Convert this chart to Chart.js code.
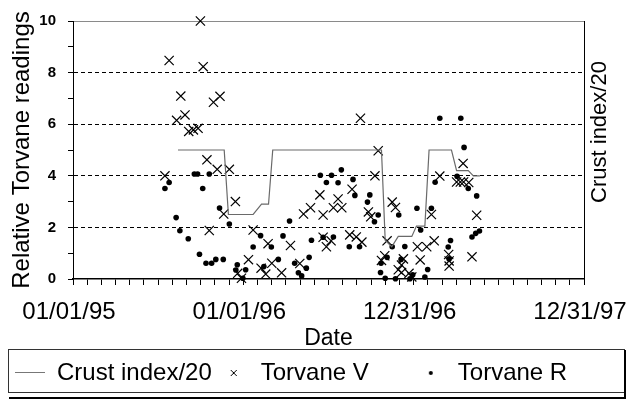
<!DOCTYPE html>
<html>
<head>
<meta charset="utf-8">
<title>Torvane readings</title>
<script src="https://cdn.jsdelivr.net/npm/chart.js@4.4.1/dist/chart.umd.min.js"></script>
<style>
  body { margin: 0; background: #fff; }
  #wrap { width: 628px; height: 399px; }
</style>
</head>
<body>
<div id="wrap"><canvas id="torvaneChart"></canvas></div>
<script>
// Dates are days since 01/01/95
// Crust index/20
const crustDays = [225, 324, 333, 386, 404, 419, 428, 661, 669, 683, 697, 726, 736, 754, 763, 811, 822, 847, 858, 872];
const crustIndex = [5, 5, 2.5, 2.5, 2.9, 2.9, 5, 5, 1.5, 1.25, 1.65, 1.65, 2.05, 2.05, 5, 5, 4.2, 4.2, 4.0, 4.0];

// Torvane V
const torvaneVDays = [197, 206, 222, 231, 240, 248, 258, 268, 273, 279, 287, 292, 301, 309, 315, 323, 335, 348, 353, 361,
  376, 386, 403, 413, 418, 426, 447, 466, 486, 494, 509, 529, 536, 536, 543, 553, 558, 568, 576, 593,
  598, 607, 616, 619, 633, 638, 647, 654, 661, 668, 673, 684, 691, 697, 704, 704, 708, 720, 726, 738,
  744, 758, 768, 774, 786, 805, 806, 806, 822, 830, 836, 837, 848, 855, 865];
const torvaneV = [4.0, 8.47, 6.15, 7.09, 6.36, 5.72, 5.78, 5.84, 10.0, 8.23, 4.62, 1.88, 6.85, 4.25, 7.08, 2.52, 4.25, 3.0, 0.22, 0.03,
  0.75, 1.9, 0.42, 0.19, 1.37, 0.61, 0.24, 1.3, 0.6, 2.52, 2.76, 3.26, 2.48, 1.62, 1.25, 1.48, 2.76, 3.1, 2.76, 1.71,
  3.48, 1.63, 6.23, 1.43, 2.6, 2.41, 4.0, 4.97, 0.72, 0.9, 1.48, 2.98, 2.77, 0.36, 0.25, 0.54, 0.78, 0.22, 0.08, 1.25,
  0.74, 1.25, 2.5, 1.48, 3.99, 0.95, 0.7, 0.5, 3.76, 3.76, 4.48, 3.76, 3.74, 0.86, 2.47];

// Torvane R
const torvaneRDays = [197, 206, 221, 229, 247, 260, 267, 271, 278, 285, 292, 297, 306, 314, 322, 335, 349, 352, 364, 370,
  386, 402, 409, 425, 440, 450, 464, 475, 483, 490, 500, 506, 511, 530, 536, 543, 554, 558, 568, 575,
  592, 600, 604, 614, 631, 636, 646, 654, 659, 660, 669, 673, 684, 691, 698, 703, 711, 722, 728, 737,
  745, 754, 760, 768, 776, 786, 804, 806, 809, 823, 831, 838, 847, 855, 863, 865, 871];
const torvaneR = [3.51, 3.74, 2.38, 1.87, 1.56, 4.07, 4.07, 0.96, 3.51, 0.61, 4.07, 0.61, 0.76, 2.75, 0.76, 2.13, 0.35, 0.55, 0.03, 0.36,
  1.24, 1.68, 0.48, 1.24, 0.76, 1.67, 2.25, 0.61, 0.24, 0.12, 0.42, 0.84, 1.5, 4.02, 1.62, 3.74, 4.02, 1.63, 3.73, 4.23,
  1.25, 3.86, 3.24, 1.25, 2.98, 3.26, 2.22, 2.48, 0.25, 0.61, 0.03, 0.84, 1.25, 0.01, 2.48, 0.76, 1.26, 0.01, 0.16, 2.74,
  1.9, 0.08, 0.37, 2.74, 3.75, 6.23, 1.24, 0.78, 1.49, 3.98, 6.23, 5.1, 3.51, 1.63, 1.77, 3.22, 1.86];

// x axis labels, one per year
const dateLabels = ['01/01/95', '01/01/96', '12/31/96', '12/31/97'];

const FONT = '"Liberation Sans", Arial, sans-serif';

function toPoints(days, values) {
  return days.map((d, i) => ({ x: d, y: values[i] }));
}

// small canvases used as legend symbols
function symbol(w, h, draw) {
  const c = document.createElement('canvas');
  c.width = w;
  c.height = h;
  draw(c.getContext('2d'));
  return c;
}
const legendSymbols = [
  symbol(30, 2, g => { g.fillStyle = '#777'; g.fillRect(0, 0, 30, 1); }),
  symbol(8, 8, g => {
    g.strokeStyle = '#000'; g.lineWidth = 1;
    g.beginPath(); g.moveTo(1, 1); g.lineTo(7, 7); g.moveTo(7, 1); g.lineTo(1, 7); g.stroke();
  }),
  symbol(6, 6, g => { g.fillStyle = '#000'; g.beginPath(); g.arc(3, 3, 2, 0, Math.PI * 2); g.fill(); })
];

function gridColor(v) {
  if (v === 10) return '#8a8a8a';
  if (v > 0 && v < 10 && v % 2 === 0) return '#000';
  return 'rgba(0,0,0,0)';
}

// legend frame and the right hand title
const extras = {
  id: 'extras',
  afterDraw(chart) {
    const { ctx, legend } = chart;
    ctx.save();
    ctx.strokeStyle = '#333';
    ctx.lineWidth = 1;
    ctx.strokeRect(8.5, legend.top - 4.5, 616, legend.bottom - legend.top + 2);
    ctx.strokeStyle = '#000';
    ctx.lineWidth = 2;
    ctx.beginPath();
    ctx.moveTo(625, legend.top - 4);
    ctx.lineTo(625, legend.bottom + 3);
    ctx.lineTo(9, legend.bottom + 3);
    ctx.stroke();

    ctx.translate(600, 132);
    ctx.rotate(-Math.PI / 2);
    ctx.font = '22px ' + FONT;
    ctx.fillStyle = '#000';
    ctx.textAlign = 'center';
    ctx.textBaseline = 'middle';
    ctx.fillText('Crust index/20', 0, 0);
    ctx.restore();
  }
};

const ctx = document.getElementById('torvaneChart').getContext('2d');
new Chart(ctx, {
  type: 'scatter',
  data: {
    datasets: [{
      label: 'Crust index/20',
      data: toPoints(crustDays, crustIndex),
      showLine: true,
      borderColor: '#6a6a6a',
      borderWidth: 1.2,
      pointRadius: 0,
      tension: 0
    }, {
      label: 'Torvane V',
      data: toPoints(torvaneVDays, torvaneV),
      pointStyle: 'crossRot',
      pointRadius: 6.5,
      borderColor: '#000',
      borderWidth: 1.2,
      clip: false
    }, {
      label: 'Torvane R',
      data: toPoints(torvaneRDays, torvaneR),
      pointStyle: 'circle',
      pointRadius: 2.8,
      backgroundColor: '#000',
      borderWidth: 0,
      clip: false
    }]
  },
  options: {
    responsive: true,
    maintainAspectRatio: false,
    animation: false,
    events: [],
    layout: { padding: { left: 8, right: 3, top: 21, bottom: 4 } },
    scales: {
      x: {
        type: 'linear',
        position: 'bottom',
        min: 0,
        max: 1095,
        ticks: {
          stepSize: 365 / 12,
          autoSkip: false,
          maxRotation: 0,
          minRotation: 0,
          padding: 13,
          labelOffset: -4,
          color: '#000',
          font: { family: FONT, size: 24 },
          callback: v => {
            const k = v / 365;
            return Math.abs(k - Math.round(k)) < 1e-6 ? dateLabels[Math.round(k)] : '';
          }
        },
        grid: { drawOnChartArea: false, tickLength: 6, tickColor: '#000' },
        border: { color: '#000', width: 1.5 },
        title: { display: true, text: 'Date', color: '#000', font: { family: FONT, size: 23 }, padding: { top: 0, bottom: 2 } },
        afterFit: s => { s.height = 75; s.paddingLeft = 0; s.paddingRight = 0; }
      },
      y: {
        position: 'left',
        min: 0,
        max: 10,
        ticks: {
          stepSize: 1,
          padding: 12,
          color: '#000',
          font: { family: FONT, size: 15, weight: 'bold' },
          callback: v => (v % 2 === 0 ? v : '')
        },
        grid: {
          color: c => gridColor(c.tick ? c.tick.value : 0),
          tickColor: '#000',
          tickLength: 5,
          tickBorderDash: []
        },
        border: {
          color: '#000',
          width: 1,
          dash: c => (c.tick && c.tick.value === 10 ? [] : [4, 3])
        },
        title: { display: true, text: 'Relative Torvane readings', color: '#000', font: { family: FONT, size: 24 }, padding: 0 },
        afterFit: s => { s.width = 65; }
      },
      y2: {
        position: 'right',
        min: 0,
        max: 10,
        ticks: { display: false },
        grid: { drawOnChartArea: false, drawTicks: false },
        border: { color: '#000', width: 1 },
        afterFit: s => { s.width = 41; }
      }
    },
    plugins: {
      tooltip: { enabled: false },
      legend: {
        position: 'bottom',
        align: 'start',
        labels: {
          usePointStyle: true,
          pointStyleWidth: 30,
          padding: 7,
          color: '#000',
          font: { family: FONT, size: 24 },
          generateLabels(chart) {
            const items = Chart.defaults.plugins.legend.labels.generateLabels(chart);
            items.forEach((item, i) => {
              item.pointStyle = legendSymbols[i];
              if (i === 1) item.text = item.text + '      ';
            });
            return items;
          }
        }
      }
    }
  },
  plugins: [extras]
});
</script>
</body>
</html>
